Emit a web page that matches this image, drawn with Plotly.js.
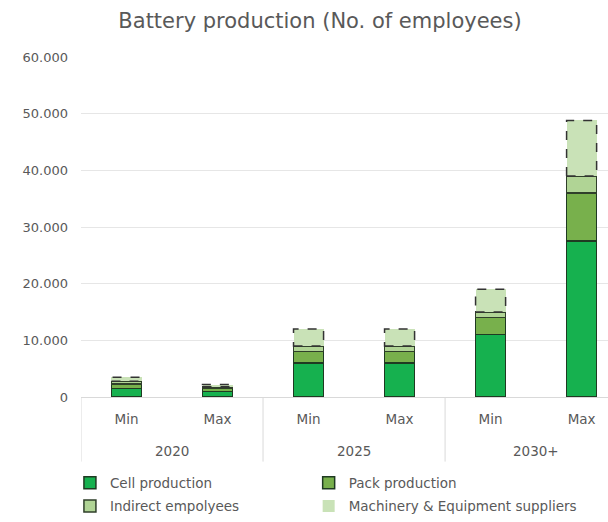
<!DOCTYPE html>
<html>
<head>
<meta charset="utf-8">
<script src="https://cdn.plot.ly/plotly-3.0.1.min.js"></script>
<style>
  html, body { margin: 0; padding: 0; background: #fff; }
  #chart { width: 608px; height: 522px; }
</style>
</head>
<body>
<div id="chart"></div>
<script>
// ---- Data ----
const years = ["2020", "2020", "2025", "2025", "2030+", "2030+"];
const scenarios = ["Min", "Max", "Min", "Max", "Min", "Max"];
const yearGroups = ["2020", "2025", "2030+"];
const cellProduction = [1500, 1000, 6000, 6000, 11000, 27500];
const packProduction = [800, 500, 2000, 2000, 3000, 8500];
const indirectEmployees = [500, 300, 1000, 1000, 1000, 3000];
const machinerySuppliers = [700, 400, 3000, 3000, 4000, 9800];
const seriesNames = ["Cell production", "Pack production", "Indirect empolyees", "Machinery & Equipment suppliers"];
const yTicks = [0, 10000, 20000, 30000, 40000, 50000, 60000];

// ---- Build ----
const idx = scenarios.map((_, i) => i);
const txtColor = "#595959";
const font = "DejaVu Sans, sans-serif";
const barW = 0.33;
const legendIds = ["legend", "legend2", "legend3", "legend4"];

function barTrace(k, vals, fill, line) {
  return {
    type: "bar", name: seriesNames[k], x: idx, y: vals, width: barW,
    legend: legendIds[k],
    marker: { color: fill, line: { color: line, width: 1.5 } },
    hoverinfo: "name+y"
  };
}
const traces = [
  barTrace(0, cellProduction, "#16b14f", "#1f3a22"),
  barTrace(1, packProduction, "#78b04c", "#1f3a22"),
  barTrace(2, indirectEmployees, "#b0d495", "#2f3f2a"),
  barTrace(3, machinerySuppliers, "#c9e2b7", "rgba(0,0,0,0)")
];

// dashed outline for machinery segment, derived from the data arrays
const shapes = [];
idx.forEach(i => {
  const base = cellProduction[i] + packProduction[i] + indirectEmployees[i];
  const top = base + machinerySuppliers[i];
  shapes.push({
    type: "rect", xref: "x", yref: "y",
    x0: i - barW / 2, x1: i + barW / 2, y0: base, y1: top,
    line: { color: "#333333", width: 1.5, dash: "dash" },
    fillcolor: "rgba(0,0,0,0)", layer: "above"
  });
});
// group dividers
for (let g = 0; g <= yearGroups.length; g++) {
  const xd = g * 2 - 0.5;
  shapes.push({
    type: "line", xref: "x", yref: "paper",
    x0: xd, x1: xd, y0: 0, y1: -0.19,
    line: { color: "#d9d9d9", width: 1 }
  });
}
// year group labels
const annotations = yearGroups.map((yr, g) => ({
  xref: "x", yref: "paper", x: g * 2 + 0.5, y: -0.159,
  text: yr, showarrow: false, yanchor: "middle",
  font: { family: font, size: 13.5, color: txtColor }
}));

function legendBox(x, y, anchor) {
  return {
    orientation: "v", x: x, xanchor: "left", y: y, yanchor: anchor,
    bgcolor: "rgba(0,0,0,0)", borderwidth: 0,
    font: { family: font, size: 13.5, color: txtColor },
    itemwidth: 30
  };
}

const layout = {
  width: 608, height: 522,
  paper_bgcolor: "#ffffff", plot_bgcolor: "#ffffff",
  margin: { l: 81, r: 0, t: 57, b: 125, pad: 0 },
  barmode: "stack",
  separators: ",.",
  title: {
    text: "Battery production (No. of employees)",
    x: 320 / 608, xanchor: "center", y: 1 - 21 / 522, yanchor: "middle",
    font: { family: font, size: 21, color: txtColor }
  },
  xaxis: {
    range: [-0.5, 5.29],
    tickmode: "array", tickvals: idx, ticktext: scenarios,
    ticks: "", ticklabelstandoff: 10,
    showgrid: false, zeroline: false,
    showline: true, linecolor: "#d9d9d9", linewidth: 1,
    tickfont: { family: font, size: 13.5, color: txtColor },
    fixedrange: true
  },
  yaxis: {
    range: [0, 60000],
    tickmode: "array", tickvals: yTicks,
    tickformat: ",d",
    ticks: "", ticklabelstandoff: 12,
    showgrid: true, gridcolor: "#e6e6e6", gridwidth: 1,
    zeroline: false, showline: false,
    tickfont: { family: font, size: 13, color: txtColor },
    fixedrange: true
  },
  legend: legendBox(-0.021, -0.253, "middle"),
  legend2: legendBox(0.432, -0.253, "middle"),
  legend3: legendBox(-0.021, -0.367, "bottom"),
  legend4: legendBox(0.432, -0.367, "bottom"),
  shapes: shapes,
  annotations: annotations,
  showlegend: true
};

Plotly.newPlot("chart", traces, layout, { displayModeBar: false, staticPlot: true });
</script>
</body>
</html>
